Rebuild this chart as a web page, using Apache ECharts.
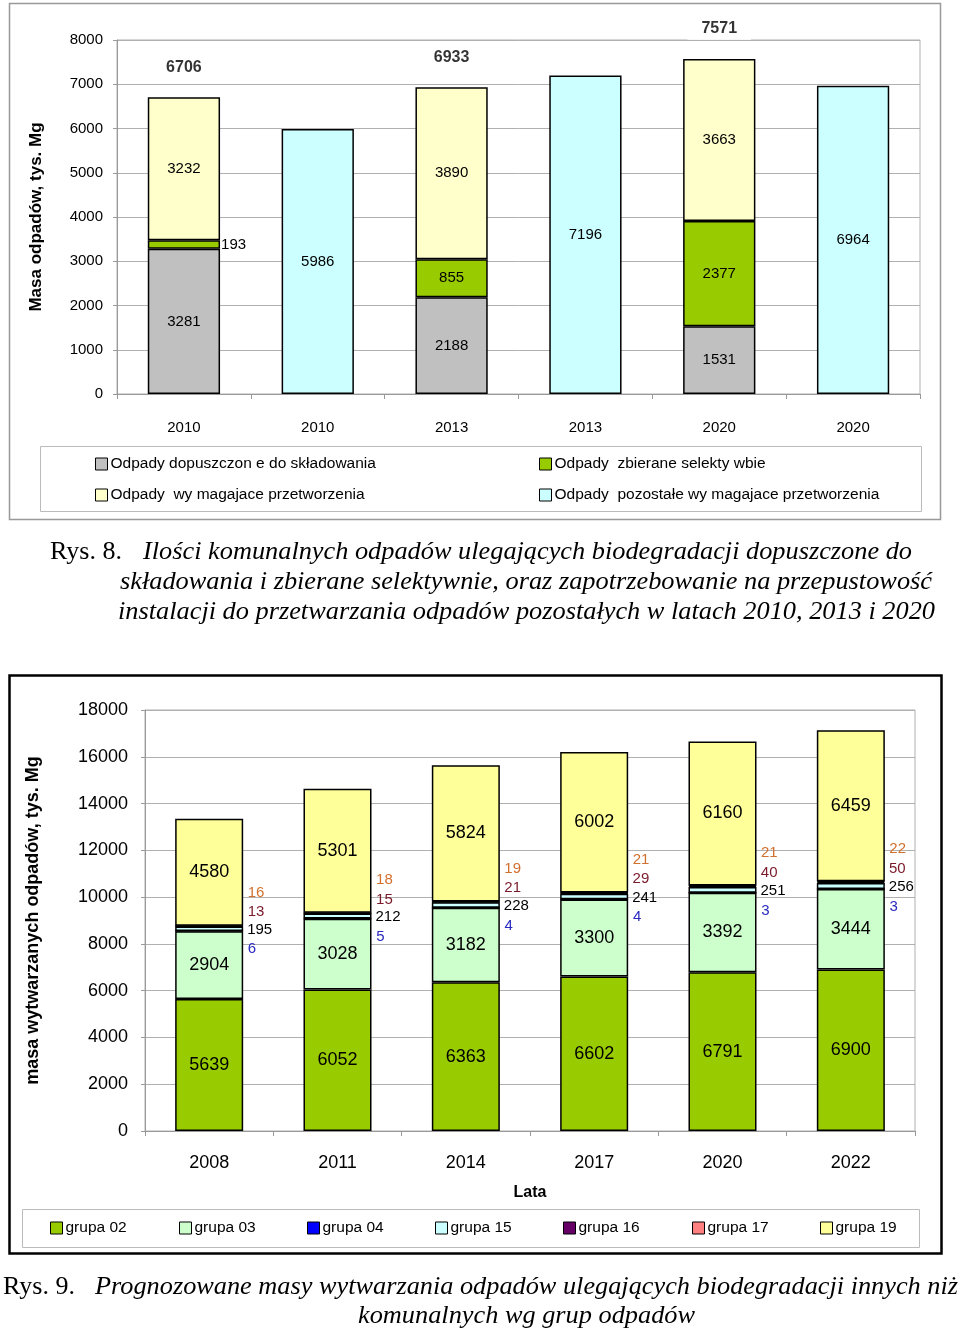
<!DOCTYPE html>
<html><head><meta charset="utf-8">
<script src="https://cdn.jsdelivr.net/npm/echarts@6/dist/echarts.min.js"></script>
<style>html,body{margin:0;padding:0;background:#fff}#c{width:960px;height:1331px}</style>
</head><body><div id="c"></div>
<script>
// ---------- Chart 1 data (Rys. 8) ----------
const years1 = ['2010','2010','2013','2013','2020','2020'];
const skladowanie = [3281, null, 2188, null, 1531, null];   // Odpady dopuszczone do składowania
const selektywne  = [193,  null, 855,  null, 2377, null];   // Odpady zbierane selektywnie
const wymagajace  = [3232, null, 3890, null, 3663, null];   // Odpady wymagające przetworzenia
const pozostale   = [null, 5986, null, 7196, null, 6964];   // Odpady pozostałe wymagające przetworzenia
const names1 = ['Odpady dopuszczon e do składowania','Odpady  zbierane selekty wbie','Odpady  wy magajace przetworzenia','Odpady  pozostałe wy magajace przetworzenia'];
const yName1 = 'Masa odpadów, tys. Mg';

// ---------- Chart 2 data (Rys. 9) ----------
const years2 = ['2008','2011','2014','2017','2020','2022'];
const g02 = [5639, 6052, 6363, 6602, 6791, 6900];
const g03 = [2904, 3028, 3182, 3300, 3392, 3444];
const g04 = [6, 5, 4, 4, 3, 3];
const g15 = [195, 212, 228, 241, 251, 256];
const g16 = [13, 15, 21, 29, 40, 50];
const g17 = [16, 18, 19, 21, 21, 22];
const g19 = [4580, 5301, 5824, 6002, 6160, 6459];
const names2 = ['grupa 02','grupa 03','grupa 04','grupa 15','grupa 16','grupa 17','grupa 19'];
const yName2 = 'masa wytwarzanych odpadów, tys. Mg';
const xName2 = 'Lata';

// ---------- Captions ----------
const cap1Prefix = 'Rys. 8.';
const cap1Lines = ['Ilości komunalnych odpadów ulegających biodegradacji dopuszczone do',
  'składowania i zbierane selektywnie, oraz zapotrzebowanie na przepustowość',
  'instalacji do przetwarzania odpadów pozostałych w latach 2010, 2013 i 2020'];
const cap2Prefix = 'Rys. 9.';
const cap2Lines = ['Prognozowane masy wytwarzania odpadów ulegających biodegradacji innych niż',
  'komunalnych wg grup odpadów'];

const SANS = "'Liberation Sans',Arial,sans-serif";
const SERIF = "'Liberation Serif','Times New Roman',serif";

const keys1 = years1.map((y,i)=>y+'#'+i);
const totals1 = years1.map((_,i)=> skladowanie[i]==null ? null : skladowanie[i]+selektywne[i]+wymagajace[i]);

const mctx = document.createElement('canvas').getContext('2d');
function fit(text, font, width){ mctx.font = font; return width / mctx.measureText(text).width; }
function capText(text, italic, x0, x1, yc){
  const font = (italic?'italic ':'') + '25px ' + SERIF;
  return {type:'text', x:x0, y:yc, scaleX: fit(text, font, x1-x0), silent:true,
    style:{text:text, font:font, fill:'#000', verticalAlign:'middle', align:'left'}};
}

const c1 = {gray:'#C0C0C0', green:'#99CC00', yellow:'#FFFFCC', cyan:'#CCFFFF'};
const c2 = ['#99CC00','#CCFFCC','#0000FF','#CCFFFF','#660066','#FF8080','#FFFF99'];

const lbl1 = {show:true, position:'inside', color:'#000', fontFamily:SANS, fontSize:15};
function bar1(name, data, color){
  return {type:'bar', name:name, stack:'s1', xAxisIndex:0, yAxisIndex:0, barWidth:'54%',
    itemStyle:{color:color, borderColor:'#000', borderWidth:1.5}, label:lbl1, data:data, silent:true};
}

const smallLbl = (color, dy) => ({show:true, position:'right', distance:4, offset:[0,dy], color:color, fontFamily:SANS, fontSize:15});
const bigLbl = {show:true, position:'inside', color:'#000', fontFamily:SANS, fontSize:18};
const data2 = [g02,g03,g04,g15,g16,g17,g19];
const labels2 = [bigLbl, bigLbl, smallLbl('#2A2AC0',18), smallLbl('#000',1), smallLbl('#7A1A2A',-14), smallLbl('#D2702E',-33), bigLbl];
const series2 = data2.map((d,k)=>({type:'bar', name:names2[k], stack:'s2', xAxisIndex:1, yAxisIndex:1, barWidth:'53%',
  itemStyle:{color:c2[k], borderColor:'#000', borderWidth:1.5}, label:labels2[k], data:d, silent:true}));

const legend1Pos = [[95,456],[539,456],[95,487],[539,487]];
const legends1 = names1.map((n,i)=>({show:true, data:[n], left:legend1Pos[i][0], top:legend1Pos[i][1], padding:0,
  itemWidth:12, itemHeight:12, itemGap:0, selectedMode:false, icon:'rect',
  itemStyle:{borderColor:'#000', borderWidth:1},
  textStyle:{fontFamily:SANS, fontSize:15.5, color:'#000', padding:[0,0,0,-2], lineHeight:16}}));
const legend2X = [50,179,307,435,563,692,820];
const legends2 = names2.map((n,i)=>({show:true, data:[n], left:legend2X[i], top:1220, padding:0,
  itemWidth:12, itemHeight:12, itemGap:0, selectedMode:false, icon:'rect',
  itemStyle:{borderColor:'#000', borderWidth:1},
  textStyle:{fontFamily:SANS, fontSize:15.5, color:'#000', padding:[0,0,0,-2], lineHeight:16}}));

const graphics = [
  {type:'rect', shape:{x:9.5,y:3.5,width:931,height:516}, style:{fill:'none', stroke:'#999', lineWidth:1.5}, silent:true, z:-1},
  {type:'rect', shape:{x:40.5,y:446.5,width:881,height:65}, style:{fill:'none', stroke:'#bbb', lineWidth:1}, silent:true, z:-1},
  {type:'rect', shape:{x:9.5,y:675.5,width:932,height:578}, style:{fill:'none', stroke:'#000', lineWidth:2.5}, silent:true, z:-1},
  {type:'rect', shape:{x:22.5,y:1209.5,width:897,height:38}, style:{fill:'none', stroke:'#bbb', lineWidth:1}, silent:true, z:-1},
  capText(cap1Prefix, false, 50, 122, 552),
  capText(cap1Lines[0], true, 143, 912, 552),
  capText(cap1Lines[1], true, 120, 932, 582),
  capText(cap1Lines[2], true, 118, 935, 612),
  capText(cap2Prefix, false, 3, 75, 1287),
  capText(cap2Lines[0], true, 95, 958, 1287),
  capText(cap2Lines[1], true, 358, 695, 1316)
];

const plain = v => String(v);

const chart = echarts.init(document.getElementById('c'), null, {renderer:'canvas'});
chart.setOption({
  animation:false,
  backgroundColor:'#fff',
  grid:[
    {left:117, top:40, width:803, height:354, show:true, borderColor:'#b0b0b0', borderWidth:1, backgroundColor:'transparent'},
    {left:145, top:710, width:770, height:421, show:true, borderColor:'#b0b0b0', borderWidth:1, backgroundColor:'transparent'}
  ],
  xAxis:[
    {type:'category', gridIndex:0, data:keys1,
      axisLine:{lineStyle:{color:'#999'}}, axisTick:{show:true, interval:0, length:5, lineStyle:{color:'#999'}},
      axisLabel:{formatter:v=>v.split('#')[0], fontFamily:SANS, fontSize:15, color:'#000', margin:26}},
    {type:'category', gridIndex:1, data:years2, name:xName2, nameLocation:'middle', nameGap:54,
      nameTextStyle:{fontFamily:SANS, fontWeight:'bold', fontSize:16, color:'#000'},
      axisLine:{lineStyle:{color:'#999'}}, axisTick:{show:true, interval:0, length:5, lineStyle:{color:'#999'}},
      axisLabel:{fontFamily:SANS, fontSize:18, color:'#000', margin:23}}
  ],
  yAxis:[
    {type:'value', gridIndex:0, min:0, max:8000, interval:1000, name:yName1, nameLocation:'middle', nameGap:72, nameRotate:90,
      nameTextStyle:{fontFamily:SANS, fontWeight:'bold', fontSize:17, color:'#000'},
      axisLine:{show:true, lineStyle:{color:'#999'}}, axisTick:{show:true, length:4, lineStyle:{color:'#999'}},
      splitLine:{lineStyle:{color:'#b0b0b0'}},
      axisLabel:{formatter:plain, fontFamily:SANS, fontSize:15, color:'#000', margin:14}},
    {type:'value', gridIndex:1, min:0, max:18000, interval:2000, name:yName2, nameLocation:'middle', nameGap:103, nameRotate:90,
      nameTextStyle:{fontFamily:SANS, fontWeight:'bold', fontSize:18, color:'#000'},
      axisLine:{show:true, lineStyle:{color:'#999'}}, axisTick:{show:true, length:4, lineStyle:{color:'#999'}},
      splitLine:{lineStyle:{color:'#b0b0b0'}},
      axisLabel:{formatter:plain, fontFamily:SANS, fontSize:18, color:'#000', margin:17}}
  ],
  legend: legends1.concat(legends2),
  series:[
    bar1(names1[0], skladowanie, c1.gray),
    bar1(names1[1], selektywne.map((v,i)=> i===0 && v!=null ? {value:v, label:{position:'right', distance:1}} : v), c1.green),
    bar1(names1[2], wymagajace, c1.yellow),
    bar1(names1[3], pozostale, c1.cyan),
    {type:'scatter', name:'suma', xAxisIndex:0, yAxisIndex:0, symbolSize:0, silent:true, z:5, data:totals1,
      label:{show:true, position:'top', distance:19, color:'#000', fontFamily:SANS, fontWeight:'bold', fontSize:16,
        backgroundColor:'#fff', padding:[3,14]}}
  ].concat(series2),
  graphic: graphics
});
</script></body></html>
